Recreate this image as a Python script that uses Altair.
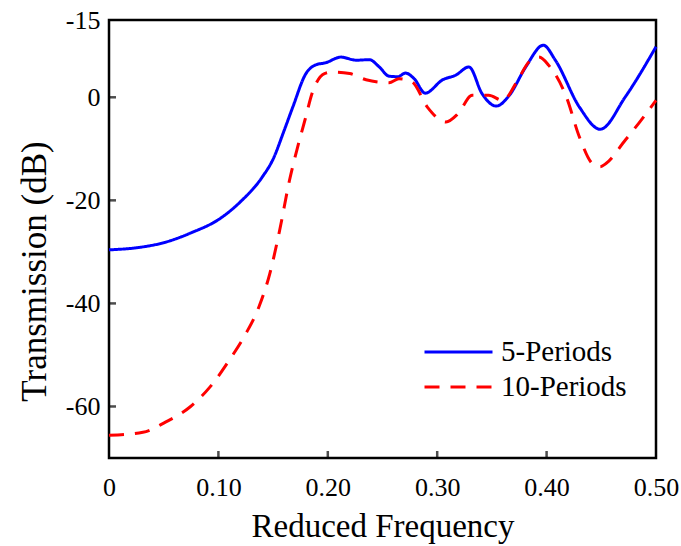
import altair as alt
import pandas as pd

# 5-Periods curve
f5 = [0.000, 0.025, 0.052, 0.075, 0.101, 0.120, 0.140, 0.150, 0.160, 0.168, 0.180,
      0.189, 0.198, 0.212, 0.226, 0.238, 0.247, 0.256, 0.264, 0.271, 0.279, 0.289,
      0.305, 0.317, 0.329, 0.341, 0.354, 0.366, 0.381, 0.397, 0.408, 0.430, 0.449,
      0.472, 0.500]
v5 = [-29.6, -29.2, -28.1, -26.3, -23.6, -20.3, -15.5, -12.0, -6.5, -1.9, 4.6,
      6.3, 6.7, 7.8, 7.2, 7.3, 5.9, 4.1, 4.0, 4.7, 3.6, 0.8,
      3.4, 4.3, 5.9, 0.7, -1.7, 0.4, 5.9, 10.1, 7.2, -1.9, -6.2,
      0.1, 9.8]

# 10-Periods curve
f10 = [0.000, 0.031, 0.052, 0.074, 0.092, 0.110, 0.125, 0.137, 0.147, 0.156, 0.165,
       0.172, 0.179, 0.186, 0.197, 0.204, 0.220, 0.235, 0.256, 0.265, 0.277, 0.291,
       0.308, 0.319, 0.332, 0.347, 0.360, 0.372, 0.384, 0.393, 0.402, 0.418, 0.430,
       0.442, 0.449, 0.454, 0.472, 0.484, 0.500]
v10 = [-65.6, -65.0, -63.0, -60.1, -56.3, -51.0, -45.9, -40.7, -34.2, -25.8, -16.1,
       -10.0, -4.5, 1.0, 4.6, 4.9, 4.6, 3.4, 2.8, 3.6, 3.0, -1.9,
       -4.8, -3.2, 0.4, 0.4, -0.6, 2.7, 6.9, 7.8, 6.2, 0.1, -7.7,
       -12.9, -13.5, -12.9, -8.3, -5.1, -0.6]

series_names = ["5-Periods", "10-Periods"]
series_colors = ["#0000FF", "#FF0000"]
x_ticks = [0, 0.1, 0.2, 0.3, 0.4, 0.5]
y_ticks = [15, 0, -20, -40, -60]
x_tick_marks = [0.1, 0.2, 0.3, 0.4]
y_tick_marks = [0, -20, -40, -60]

df = pd.concat([
    pd.DataFrame({"f": f5, "v": v5, "s": series_names[0], "o": range(len(f5))}),
    pd.DataFrame({"f": f10, "v": v10, "s": series_names[1], "o": range(len(f10))}),
])

FONT = "Liberation Serif"
xscale = alt.Scale(domain=[0, 0.5], nice=False, zero=False)
yscale = alt.Scale(domain=[-70, 15], nice=False, zero=False)

xaxis = alt.Axis(
    values=x_ticks, orient="bottom", ticks=False, domain=False, grid=False,
    labelExpr="datum.value == 0 ? '0' : format(datum.value, '.2f')",
    labelFont=FONT, labelFontSize=26, labelColor="black", labelPadding=16,
    labelFlush=False,
    title="Reduced Frequency", titleFont=FONT, titleFontSize=33,
    titleFontWeight="normal", titleColor="black", titlePadding=10)
yaxis = alt.Axis(
    values=y_ticks, orient="left", ticks=False, domain=False, grid=False,
    labelExpr="datum.value == 15 ? '-15' : toString(datum.value)",
    labelFont=FONT, labelFontSize=26, labelColor="black", labelPadding=9,
    labelFlush=False,
    title="Transmission (dB)", titleFont=FONT, titleFontSize=35,
    titleFontWeight="normal", titleColor="black", titleX=-57, titleY=251)

lines = alt.Chart(df).mark_line(strokeWidth=3, interpolate="monotone").encode(
    x=alt.X("f:Q", scale=xscale, axis=xaxis),
    y=alt.Y("v:Q", scale=yscale, axis=yaxis),
    color=alt.Color("s:N", scale=alt.Scale(domain=series_names, range=series_colors),
                    legend=alt.Legend(title=None, orient="none", legendX=314, legendY=317,
                                      symbolType="stroke", symbolSize=4624,
                                      symbolStrokeWidth=3, labelFont=FONT,
                                      labelFontSize=29, labelColor="black",
                                      labelOffset=7, clipHeight=30, rowPadding=5,
                                      padding=0)),
    strokeDash=alt.StrokeDash("s:N", scale=alt.Scale(domain=series_names,
                                                     range=[[1, 0], [15, 11]]),
                              legend=alt.Legend(title=None, orient="none", legendX=314,
                                                legendY=317)),
    order="o:Q",
)

xt = alt.Chart(pd.DataFrame({"f": x_tick_marks})).mark_tick(
    orient="vertical", size=14, thickness=2.5, color="black", clip=True
).encode(x=alt.X("f:Q", scale=xscale, axis=xaxis), y=alt.datum(-70))

yt = alt.Chart(pd.DataFrame({"v": y_tick_marks})).mark_tick(
    orient="horizontal", size=14, thickness=2.5, color="black", clip=True
).encode(y=alt.Y("v:Q", scale=yscale, axis=yaxis), x=alt.datum(0))

chart = alt.layer(lines, xt, yt).properties(
    width=547, height=438,
    autosize=alt.AutoSizeParams(type="none"),
    padding={"left": 109, "top": 20, "right": 25, "bottom": 88},
    background="white",
).configure_view(stroke="black", strokeWidth=2.5)

chart.save("out.html", embed_options={"renderer": "svg", "actions": False})
